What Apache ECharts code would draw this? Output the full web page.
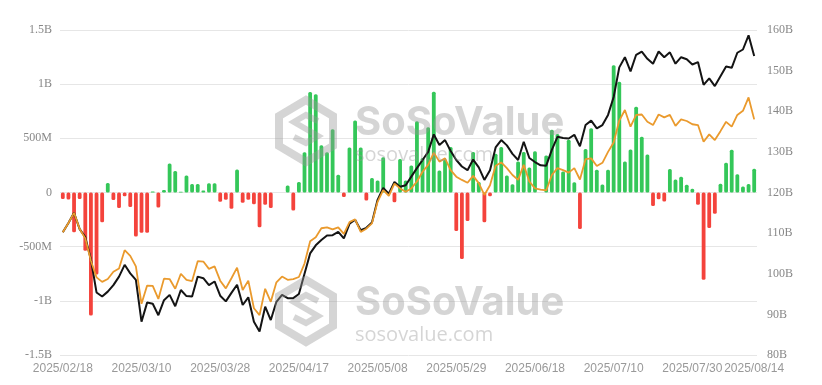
<html>
<head>
  <meta charset="utf-8">
  <style>
    html, body { margin: 0; padding: 0; background: #fff; }
    #container { width: 822px; height: 385px; }
  </style>
</head>
<body>
<div id="container"></div>
<script type="text/javascript" src="https://fastly.jsdelivr.net/npm/echarts@6/dist/echarts.min.js"></script>
<script type="text/javascript">
  const dates = [
    '2025/02/18','2025/02/19','2025/02/20','2025/02/21','2025/02/24','2025/02/25','2025/02/26','2025/02/27','2025/02/28',
    '2025/03/03','2025/03/04','2025/03/05','2025/03/06','2025/03/07','2025/03/10','2025/03/11','2025/03/12','2025/03/13','2025/03/14',
    '2025/03/17','2025/03/18','2025/03/19','2025/03/20','2025/03/21','2025/03/24','2025/03/25','2025/03/26','2025/03/27','2025/03/28','2025/03/31',
    '2025/04/01','2025/04/02','2025/04/03','2025/04/04','2025/04/07','2025/04/08','2025/04/09','2025/04/10','2025/04/11','2025/04/14',
    '2025/04/15','2025/04/16','2025/04/17','2025/04/21','2025/04/22','2025/04/23','2025/04/24','2025/04/25','2025/04/28','2025/04/29','2025/04/30',
    '2025/05/01','2025/05/02','2025/05/05','2025/05/06','2025/05/07','2025/05/08','2025/05/09','2025/05/12','2025/05/13','2025/05/14',
    '2025/05/15','2025/05/16','2025/05/19','2025/05/20','2025/05/21','2025/05/22','2025/05/23','2025/05/27','2025/05/28','2025/05/29','2025/05/30',
    '2025/06/02','2025/06/03','2025/06/04','2025/06/05','2025/06/06','2025/06/09','2025/06/10','2025/06/11','2025/06/12','2025/06/13',
    '2025/06/16','2025/06/17','2025/06/18','2025/06/20','2025/06/23','2025/06/24','2025/06/25','2025/06/26','2025/06/27','2025/06/30',
    '2025/07/01','2025/07/02','2025/07/03','2025/07/07','2025/07/08','2025/07/09','2025/07/10','2025/07/11','2025/07/14','2025/07/15',
    '2025/07/16','2025/07/17','2025/07/18','2025/07/21','2025/07/22','2025/07/23','2025/07/24','2025/07/25','2025/07/28','2025/07/29',
    '2025/07/30','2025/07/31',
    '2025/08/01','2025/08/04','2025/08/05','2025/08/06','2025/08/07','2025/08/08','2025/08/11','2025/08/12','2025/08/13','2025/08/14'
  ];

  // daily net inflow, millions USD
  const netInflow = [
    -60, -65, -367, -60, -537, -1135, -757, -275, 88,
    -70, -142, -34, -133, -407, -371, -371, 10, -138, 22,
    268, 198, 8, 158, 78, 78, 19, 85, 85, -86, -68,
    -150, 213, -95, -66, -108, -321, -112, -143, 0, 0,
    65, -166, 98, 371, 928, 908, 436, 371, 584, 165, -42,
    416, 665, 416, -74, 134, 110, 325, 0, -89, 310,
    111, 250, 658, 318, 603, 930, 204, 306, 420, -355, -613,
    -263, 374, 96, -275, -34, 358, 420, 158, 77, 287,
    374, 230, 380, 0, 342, 580, 541, 195, 487, 95,
    -336, 402, 592, 211, 73, 211, 1175, 1023, 287, 396,
    792, 515, 350, -125, -62, -82, 218, 120, 145, 72,
    34, -113,
    -806, -327, -195, 80, 275, 395, 168, 56, 78, 219
  ];

  // total net assets, billions USD
  const totalAssets = [
    110.2, 112.5, 115, 111, 109, 103.5, 95.4, 94.4, 95.6,
    97.2, 99.3, 102.2, 100.1, 98.5, 88.2, 92.9, 92.6, 89.8, 93.5,
    94.8, 92, 96, 94.5, 94.4, 99.3, 98.9, 97.2, 98.1, 94.6, 93.2,
    95.3, 97.3, 92.3, 94.2, 88.2, 85.8, 91.9, 88.6, 93.1, 94.8,
    94, 94, 95, 100, 105, 107, 108.3, 109.4, 109.5, 110.3, 108.7,
    112.3, 113.3, 110.7, 111.3, 112.6, 118.2, 121.1, 119.7, 122.6, 121.4,
    121.8, 123.9, 126, 128, 130, 134.3, 131.7, 132.9, 130.2, 128, 126.4,
    125.5, 128.1, 126.2, 123.1, 125.5, 131.1, 132.9, 131.6, 129.5, 128,
    132.5, 128.5, 127.5, 126.7, 126.6, 130.5, 133.7, 133.4, 133.3, 134.2,
    131.4, 136.6, 137.7, 135.8, 136.6, 139.1, 143.5, 150.8, 153.3, 149.8,
    153.9, 154.7, 152.9, 151.7, 154.7, 153.3, 154.5, 151.7, 153.3, 152.8,
    151.5, 152.1,
    146.5, 148.1, 146.2, 148.6, 151, 150.7, 154.4, 155.2, 158.7, 153.6
  ];

  // cumulative net inflow, billions USD
  const cumInflow = [
    110.2, 112.5, 115, 111, 108.7, 103.2, 99.1, 98, 98.7,
    100.5, 101.3, 105.8, 104.4, 101.8, 92.6, 97.1, 97, 93.8, 98.8,
    98.7, 96.3, 100, 98.5, 98.2, 103.1, 103, 101.2, 101.8, 98.3, 96.4,
    98.9, 101.5, 96, 98.3, 91.5, 89.8, 96.3, 93.1, 97.9, 99.3,
    98.5, 98.7, 99.2, 102.5, 108, 109, 111.2, 111.4, 110.9, 111.4, 109.8,
    112.7, 113.4, 110.3, 111.1, 112.4, 117.7, 120.6, 119.2, 122.2, 121,
    120.2, 121, 122.7, 125.1, 126.8, 129.8, 127.6, 128.4, 125.5, 123.9, 123.1,
    122.4, 124.1, 122.3, 119.4, 121.8, 126.6, 127.4, 126, 124.3, 123.1,
    126.8, 122.7, 121, 120.7, 120.5, 124.3, 126, 125.5, 124.9, 126,
    123.2, 128.2, 128.4, 126.5, 127.3, 130, 132.3, 137.7, 140.3, 136.2,
    139.1, 139.2, 137.4, 136.6, 139.2, 138.5, 139.1, 136.4, 138, 137.6,
    136.8, 136.6,
    132.5, 134.3, 132.9, 135.1, 137.4, 136.2, 139.1, 140.1, 143.4, 138
  ];

  const leftTicks = { '-1500': '-1.5B', '-1000': '-1B', '-500': '-500M', '0': '0', '500': '500M', '1000': '1B', '1500': '1.5B' };

  var dom = document.getElementById('container');
  var myChart = echarts.init(dom, null, { renderer: 'canvas' });

  var wmColor = 'rgba(150,150,150,0.4)';

  // watermark: rough logo + name
  function wm(y) {
    return [
      {
        type: 'polygon', z: 100, silent: true,
        shape: { points: [[306, y - 31], [333, y - 15], [333, y + 15], [306, y + 31], [279, y + 15], [279, y - 15]] },
        style: { fill: 'none', stroke: wmColor, lineWidth: 8 }
      },
      {
        type: 'polyline', z: 100, silent: true,
        shape: { points: [[318, y - 10], [306, y - 16], [294, y - 9], [306, y - 2], [318, y + 5], [306, y + 12], [294, y + 6]] },
        style: { fill: 'none', stroke: wmColor, lineWidth: 6 }
      },
      {
        type: 'text', z: 100, silent: true, left: 355, top: y - 28,
        style: { text: 'SoSoValue', fontSize: 40, fontWeight: 'bold', fontFamily: 'Inter', fill: wmColor }
      },
      {
        type: 'text', z: 100, silent: true, left: 355, top: y + 14,
        style: { text: 'sosovalue.com', fontSize: 20, fontFamily: 'Open Sans', fill: wmColor }
      }
    ];
  }

  var option = {
    animation: false,
    grid: { left: 60, right: 65, top: 30, bottom: 30 },
    xAxis: {
      type: 'category',
      data: dates,
      boundaryGap: true,
      axisLine: { show: false },
      axisTick: { show: false },
      axisLabel: {
        interval: function (i) { return i % 14 === 0 || i === dates.length - 1; },
        color: '#999',
        fontSize: 12,
        fontFamily: 'Liberation Sans',
        margin: 8
      }
    },
    yAxis: [
      {
        type: 'value', min: -1500, max: 1500, interval: 500,
        axisLine: { show: false }, axisTick: { show: false },
        splitLine: { lineStyle: { color: '#e6e6e6' } },
        axisLabel: {
          color: '#888', fontSize: 12, fontFamily: 'Liberation Serif', margin: 8,
          formatter: function (v) { return leftTicks[String(v)]; }
        }
      },
      {
        type: 'value', min: 80, max: 160, interval: 10,
        axisLine: { show: false }, axisTick: { show: false },
        splitLine: { show: false },
        axisLabel: {
          color: '#888', fontSize: 12, fontFamily: 'Liberation Serif', margin: 10,
          formatter: function (v) { return v + 'B'; }
        }
      }
    ],
    series: [
      {
        name: 'Daily Net Inflow', type: 'bar', yAxisIndex: 0,
        barWidth: 3.8,
        data: netInflow.map(function (v) {
          return { value: v, itemStyle: { color: v >= 0 ? '#34c759' : '#f4433c', borderRadius: 1.5 } };
        })
      },
      {
        name: 'Total Net Assets', type: 'line', yAxisIndex: 1,
        data: totalAssets, symbol: 'none',
        lineStyle: { color: '#141414', width: 2 }
      },
      {
        name: 'Cumulative Net Inflow', type: 'line', yAxisIndex: 1,
        data: cumInflow, symbol: 'none',
        lineStyle: { color: '#ea9a2d', width: 1.8 }
      }
    ],
    graphic: wm(131).concat(wm(311))
  };

  myChart.setOption(option);
</script>
</body>
</html>
